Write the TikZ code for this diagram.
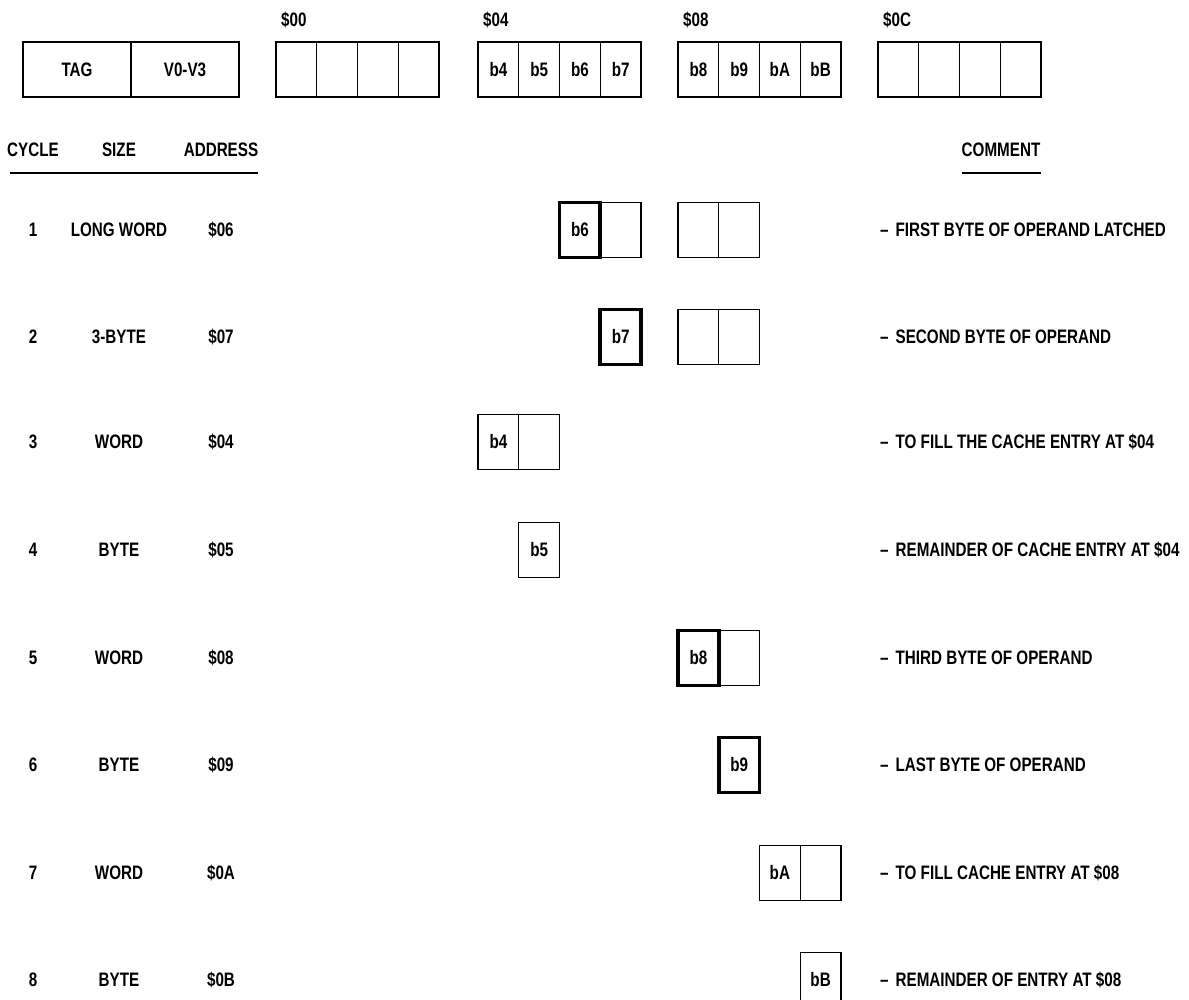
\documentclass[tikz,border=0pt]{standalone}
\usepackage{fontspec}
\setmainfont{Liberation Sans}[FakeStretch=0.78]
\usetikzlibrary{positioning}
\tikzset{
  txt/.style={inner sep=0pt, font=\fontsize{19.5}{22}\selectfont\bfseries},
  cell/.style={txt, draw, line width=1.2pt, minimum width=40.75pt, minimum height=55pt, outer sep=0pt, anchor=west},
  hicell/.style={cell, line width=3.6pt},
  boxframe/.style={line width=2.8pt},
  hdrline/.style={line width=1.6pt}
}
\begin{document}
\begin{tikzpicture}[x=1pt,y=-1pt]
\useasboundingbox (0,0) rectangle (1189,1000);
% cache entry and the four long words
\node[cell, minimum width=108pt] (tag) at (23,69.5) {TAG};
\node[cell, minimum width=108pt, right=0pt of tag] (val) {V0-V3};
\draw[boxframe] (tag.north west) rectangle (val.south east);
\foreach \g/\x in {00/276,04/478,08/678,0C/878}{
  \node[txt, anchor=west] (lab\g) at (\x+5,20) {\$\g};
  \foreach \i in {0,...,3}
    \node[cell] (m\g\i) at (\x+\i*40.75,69.5) {};
  \draw[boxframe] (m\g0.north west) rectangle (m\g3.south east);
}
\foreach \n/\t in {040/b4,041/b5,042/b6,043/b7,080/b8,081/b9,082/bA,083/bB}
  \node[txt] (t\n) at (m\n) {\t};
% headings
\node[txt] (hcyc) at (33,150) {CYCLE};
\node[txt] (hsiz) at (119,150) {SIZE};
\node[txt] (hadr) at (221,150) {ADDRESS};
\node[txt] (hcom) at (1001,150) {COMMENT};
\draw[hdrline] (10,173) -- (258,173);
\draw[hdrline] (962,173) -- (1041,173);
% the eight cycles
\foreach \k/\y/\s/\a/\c in {
  1/230/LONG WORD/06/FIRST BYTE OF OPERAND LATCHED,
  2/337/3-BYTE/07/SECOND BYTE OF OPERAND,
  3/442/WORD/04/TO FILL THE CACHE ENTRY AT \$04,
  4/550/BYTE/05/REMAINDER OF CACHE ENTRY AT \$04,
  5/658/WORD/08/THIRD BYTE OF OPERAND,
  6/765/BYTE/09/LAST BYTE OF OPERAND,
  7/873/WORD/0A/TO FILL CACHE ENTRY AT \$08,
  8/980/BYTE/0B/REMAINDER OF ENTRY AT \$08}{
  \node[txt] (cyc\k) at (33,\y) {\k};
  \node[txt] (siz\k) at (119,\y) {\s};
  \node[txt] (adr\k) at (221,\y) {\$\a};
  \node[txt, anchor=west] (com\k) at (880,\y) {--\hspace{7pt}\c};
}
% bytes moved in each cycle
\node[cell] (r1b) at (600.25,230) {};
\node[hicell] (r1a) at (559.5,230) {b6};
\node[cell] (r1c) at (678,230) {};
\node[cell, right=0pt of r1c] (r1d) {};
\node[hicell] (r2a) at (600.25,337) {b7};
\node[cell] (r2c) at (678,337) {};
\node[cell, right=0pt of r2c] (r2d) {};
\node[cell] (r3a) at (478,442) {b4};
\node[cell, right=0pt of r3a] (r3b) {};
\node[cell] (r4a) at (518.75,550) {b5};
\node[cell] (r5b) at (718.75,658) {};
\node[hicell] (r5a) at (678,658) {b8};
\node[hicell] (r6a) at (718.75,765) {b9};
\node[cell] (r7a) at (759.5,873) {bA};
\node[cell, right=0pt of r7a] (r7b) {};
\node[cell] (r8a) at (800.25,980) {bB};
\end{tikzpicture}
\end{document}
